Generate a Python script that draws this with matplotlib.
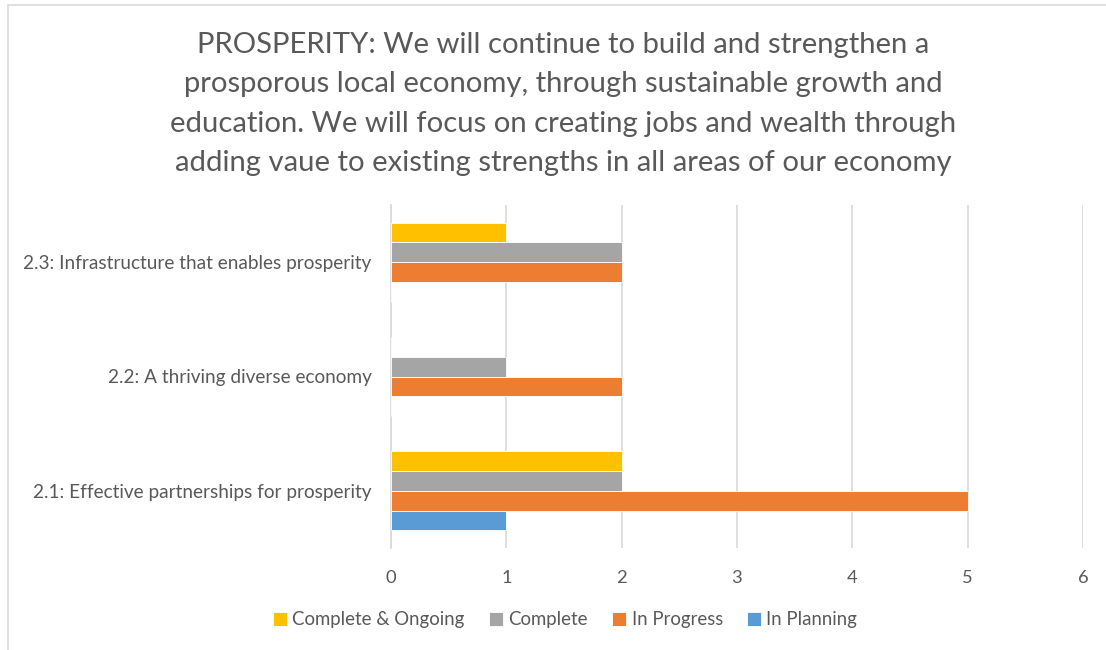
import matplotlib
matplotlib.use("Agg")
import matplotlib.pyplot as plt
from matplotlib.patches import Rectangle
import numpy as np

plt.rcParams['font.family'] = ['Lato', 'DejaVu Sans']

categories = ["2.1: Effective partnerships for prosperity",
              "2.2: A thriving diverse economy",
              "2.3: Infrastructure that enables prosperity"]
series_names = ["In Planning", "In Progress", "Complete", "Complete & Ongoing"]
in_planning = [1, 0, 0]
in_progress = [5, 2, 2]
complete = [2, 1, 2]
complete_ongoing = [2, 0, 1]
series_values = [in_planning, in_progress, complete, complete_ongoing]
colors = ["#5B9BD5", "#ED7D31", "#A5A5A5", "#FFC000"]
xticks = [0, 1, 2, 3, 4, 5, 6]

title = ("PROSPERITY: We will continue to build and strengthen a\n"
         "prosporous local economy, through sustainable growth and\n"
         "education. We will focus on creating jobs and wealth through\n"
         "adding vaue to existing strengths in all areas of our economy")

W, H = 1106, 650
fig = plt.figure(figsize=(W / 100, H / 100), dpi=100)
fig.patch.set_facecolor("white")

# chart border
fig.add_artist(Rectangle((8 / W, -0.05), 1.2, 1 - 5 / H + 0.05, transform=fig.transFigure,
                         fill=False, edgecolor="#D9D9D9", linewidth=1.2))

ax = fig.add_axes([391 / W, 1 - 548 / H, (1083 - 391) / W, (548 - 205) / H])
y = np.arange(len(categories))
h = 0.173
for k, (name, vals, c) in enumerate(zip(series_names, series_values, colors)):
    ax.barh(y + (k - 1.5) * h, vals, height=h, color=c, label=name,
            edgecolor="white", linewidth=0.6, zorder=3)

ax.set_xlim(0, 6)
ax.set_ylim(-0.5, 2.5)
ax.set_xticks(xticks)
ax.set_xticklabels([str(t) for t in xticks])
ax.set_yticks(y)
ax.set_yticklabels(categories)
ax.grid(axis="x", color="#D9D9D9", linewidth=1.2, zorder=0)
for s in ["top", "right", "bottom"]:
    ax.spines[s].set_visible(False)
ax.spines["left"].set_color("#D9D9D9")
ax.spines["left"].set_linewidth(1.2)
ax.tick_params(axis="both", length=0, labelcolor="#595959")
ax.tick_params(axis="y", labelsize=13.7, pad=14)
ax.tick_params(axis="x", labelsize=13.2, pad=16)

fig.text(563 / W, 1 - 104 / H, title, ha="center", va="center", fontsize=21.1,
         color="#595959", linespacing=1.62)

handles, labels = ax.get_legend_handles_labels()
order = [3, 2, 1, 0]
leg = fig.legend([handles[i] for i in order], [labels[i] for i in order],
                 loc="center", bbox_to_anchor=(565 / W, 1 - 620 / H), ncol=4,
                 frameon=False, fontsize=13.4, handlelength=0.75, handleheight=0.75,
                 handletextpad=0.3, columnspacing=1.3)
for t in leg.get_texts():
    t.set_color("#595959")

fig.savefig("out.png", dpi=100)
